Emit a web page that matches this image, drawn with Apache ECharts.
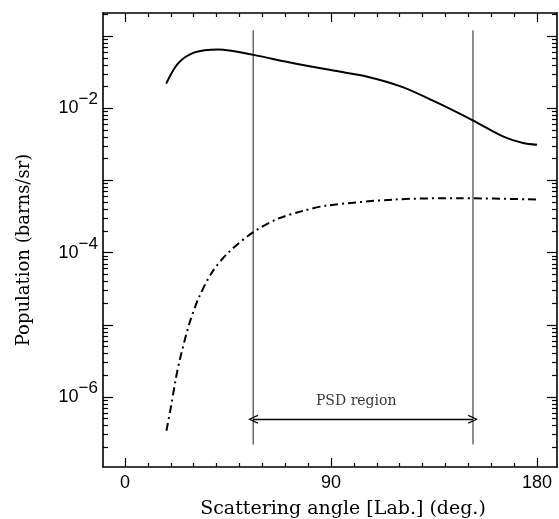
<!DOCTYPE html>
<html>
<head>
<meta charset="utf-8">
<script src="https://cdn.jsdelivr.net/npm/echarts@6/dist/echarts.min.js"></script>
<style>
  html, body { margin: 0; padding: 0; background: #fff; }
  #chart { width: 559px; height: 519px; }
</style>
</head>
<body>
<div id="chart"></div>
<script>
// Cross section vs. lab scattering angle (solid) and the second component (dash-dot)
const solidAngle = [18, 23.2, 30.4, 40.6, 46.4, 56.7, 74.2, 91.7, 106.3, 121, 135.7, 151.9, 165.1, 173.9, 180];
const solidValue = [0.0220, 0.0418, 0.0594, 0.0653, 0.0625, 0.0545, 0.0418, 0.0330, 0.0272, 0.0198, 0.01225, 0.00681, 0.00408, 0.00331, 0.00313];

const dashAngle = [18.1, 20.1, 22.1, 24.1, 28.2, 32.3, 38, 45.1, 55.9, 66.7, 78.3, 88.4, 117.5, 146.6, 180];
const dashValue = [3.40e-7, 7.33e-7, 1.72e-6, 3.44e-6, 1.06e-5, 2.39e-5, 5.32e-5, 1.0e-4, 1.91e-4, 2.94e-4, 3.83e-4, 4.50e-4, 5.44e-4, 5.68e-4, 5.44e-4];

// PSD window
const psdEdges = [56, 152];
const psdSpan = [2.2e-7, 0.121];
const psdArrowY = 4.9e-7;
const psdLabelAt = [101, 8.6e-7];
const psdLabel = 'PSD region';

// Axis ranges and ticks
const xRange = [-9.6, 188.7];
const yRange = [1.07e-7, 0.209];
const xMajorTicks = [0, 90, 180];
const xMinorTicks = [10, 20, 30, 40, 50, 60, 70, 80, 100, 110, 120, 130, 140, 150, 160, 170];
const yLabelTicks = [1e-6, 1e-4, 1e-2];
const yDecadeTicks = [1e-7, 1e-6, 1e-5, 1e-4, 1e-3, 1e-2, 1e-1];

const yMinorTicks = [];
yDecadeTicks.forEach(function (d) {
  for (let m = 2; m <= 9; m++) {
    const v = +(m * d).toPrecision(3);
    if (v < yRange[1]) yMinorTicks.push(v);
  }
});

const INK = '#000';
const frameLine = { show: true, onZero: false, lineStyle: { color: INK, width: 1.6 } };
const noLine = { show: false, onZero: false };
const serif = 'DejaVu Serif';
const sans = 'Liberation Sans';

function xAxisDef(pos, grid, ticks, len, withLabels, showLine) {
  const a = {
    type: 'value', gridIndex: grid, position: pos, min: xRange[0], max: xRange[1],
    axisLine: showLine ? frameLine : noLine,
    axisTick: { show: true, inside: true, length: len, customValues: ticks, lineStyle: { color: INK, width: 1.2 } },
    axisLabel: { show: false },
    splitLine: { show: false }
  };
  if (withLabels) {
    a.axisLabel = { show: true, customValues: xMajorTicks, margin: 7, color: INK, fontFamily: sans, fontSize: 18 };
    a.name = 'Scattering angle [Lab.] (deg.)';
    a.nameLocation = 'middle';
    a.nameGap = 33;
    a.nameTextStyle = { fontFamily: serif, fontSize: 19, color: INK, padding: [0, 0, 0, 26] };
  }
  return a;
}

function yAxisDef(pos, grid, ticks, len, withLabels, showLine) {
  const a = {
    type: 'log', logBase: 10, gridIndex: grid, position: pos, min: yRange[0], max: yRange[1],
    axisLine: showLine ? frameLine : noLine,
    axisTick: { show: true, inside: true, length: len, customValues: ticks, lineStyle: { color: INK, width: 1.2 } },
    axisLabel: { show: false },
    splitLine: { show: false }
  };
  if (withLabels) {
    a.axisLabel = {
      show: true, customValues: yLabelTicks, margin: 5,
      formatter: function (v) {
        const e = Math.round(Math.log10(v));
        return '{b|10}{s|\u2212' + (-e) + '}';
      },
      rich: {
        b: { fontFamily: sans, fontSize: 18, color: INK, verticalAlign: 'bottom', lineHeight: 18 },
        s: { fontFamily: sans, fontSize: 17, color: INK, verticalAlign: 'bottom', lineHeight: 18, padding: [0, 0, 9, 0] }
      }
    };
    a.name = 'Population (barns/sr)';
    a.nameLocation = 'middle';
    a.nameGap = 70;
    a.nameTextStyle = { fontFamily: serif, fontSize: 18, color: INK, padding: [0, 20, 0, 0] };
  }
  return a;
}

function vline(x) {
  return {
    type: 'line', xAxisIndex: 0, yAxisIndex: 0, silent: true, symbol: 'none',
    lineStyle: { color: '#333', width: 1.1 },
    data: [[x, psdSpan[0]], [x, psdSpan[1]]],
    z: 1
  };
}

const chevron = 'path://M5,0 L10,10 L8.6,10.6 L5,2.6 L1.4,10.6 L0,10 Z';

const gridBox = { left: 103, right: 2, top: 13, bottom: 52, outerBoundsMode: 'none', containLabel: false };

const option = {
  animation: false,
  backgroundColor: '#fff',
  grid: [Object.assign({}, gridBox), Object.assign({}, gridBox)],
  xAxis: [
    xAxisDef('bottom', 0, xMajorTicks, 9, true, true),
    xAxisDef('top', 0, xMajorTicks, 9, false, true),
    xAxisDef('bottom', 1, xMinorTicks, 4, false, false),
    xAxisDef('top', 1, xMinorTicks, 4, false, false)
  ],
  yAxis: [
    yAxisDef('left', 0, yDecadeTicks, 10, true, true),
    yAxisDef('right', 0, yDecadeTicks, 10, false, true),
    yAxisDef('left', 1, yMinorTicks, 5, false, false),
    yAxisDef('right', 1, yMinorTicks, 5, false, false)
  ],
  series: [
    {
      type: 'line', xAxisIndex: 0, yAxisIndex: 0, symbol: 'none', smooth: 0.3,
      lineStyle: { color: INK, width: 2 },
      data: solidAngle.map(function (a, i) { return [a, solidValue[i]]; }),
      z: 3
    },
    {
      type: 'line', xAxisIndex: 0, yAxisIndex: 0, symbol: 'none', smooth: 0.3,
      lineStyle: { color: INK, width: 2, type: [8, 4, 2, 4] },
      data: dashAngle.map(function (a, i) { return [a, dashValue[i]]; }),
      z: 3
    },
    vline(psdEdges[0]),
    vline(psdEdges[1]),
    {
      type: 'line', xAxisIndex: 0, yAxisIndex: 0, symbol: 'none', silent: true,
      lineStyle: { opacity: 0 },
      data: [],
      markLine: {
        silent: true, animation: false,
        symbol: [chevron, chevron], symbolSize: [9, 10],
        lineStyle: { color: INK, width: 1.3, type: 'solid' },
        label: { show: false },
        data: [[{ coord: [psdEdges[0], psdArrowY] }, { coord: [psdEdges[1], psdArrowY] }]]
      }
    },
    {
      type: 'scatter', xAxisIndex: 0, yAxisIndex: 0, symbolSize: 0, silent: true,
      data: [psdLabelAt],
      label: {
        show: true, position: 'inside', formatter: psdLabel,
        fontFamily: serif, fontSize: 14, color: INK
      }
    }
  ]
};

echarts.init(document.getElementById('chart'), null, { renderer: 'canvas' }).setOption(option);
</script>
</body>
</html>
